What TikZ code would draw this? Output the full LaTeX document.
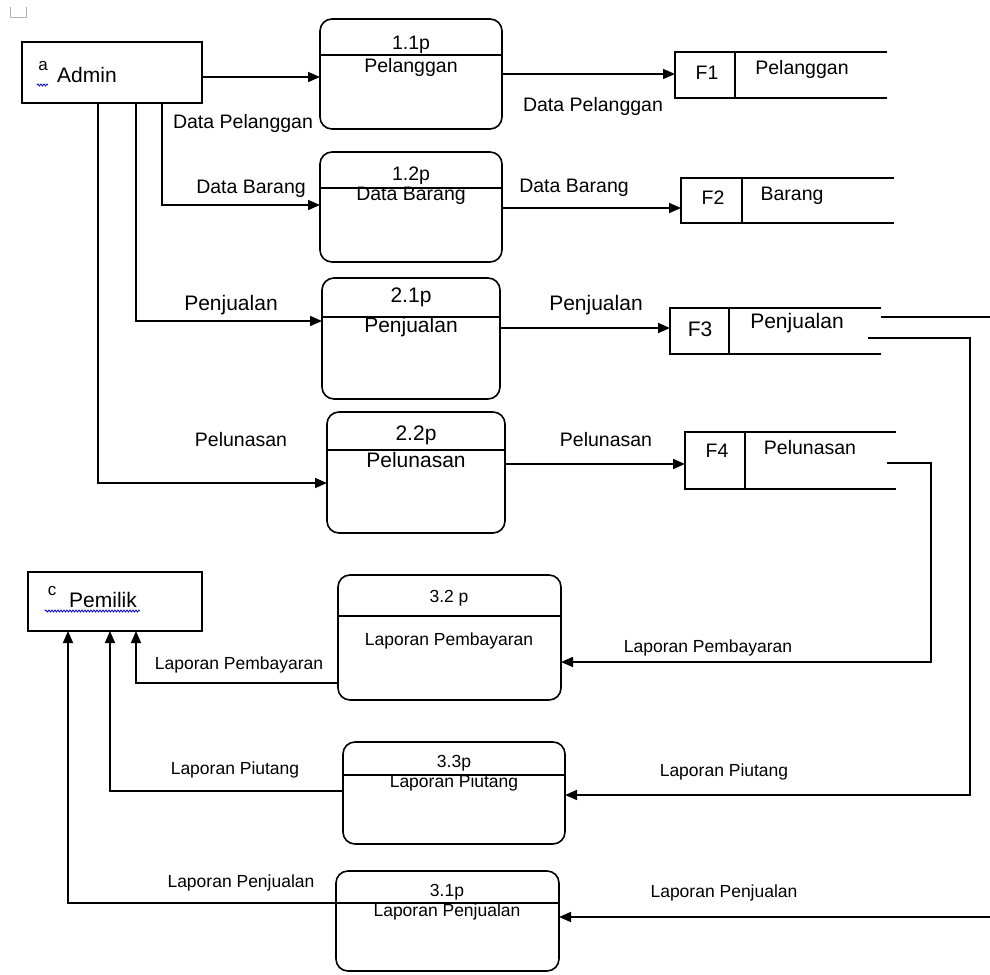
\documentclass[tikz,border=0pt]{standalone}
\usepackage{fontspec}
\setmainfont{Liberation Sans}
\usetikzlibrary{arrows.meta,fit,decorations.pathmorphing}
\begin{document}
\begin{tikzpicture}[x=1pt,y=-1pt,line width=1.6pt,
  proc/.style={draw, rounded corners=12pt, inner sep=0pt, outer sep=0pt},
  ent/.style={draw, inner sep=0pt, outer sep=0pt},
  hole/.style={inner sep=0pt, outer sep=0pt},
  arr/.style={-{Triangle[length=12pt,width=10pt]}},
  tA/.style={font=\fontsize{19.5}{20}\selectfont, inner sep=0pt},
  tB/.style={font=\fontsize{21}{22}\selectfont, inner sep=0pt},
  tC/.style={font=\fontsize{17.5}{18}\selectfont, inner sep=0pt},
  tS/.style={font=\fontsize{17}{18}\selectfont, inner sep=0pt},
  wavy/.style={draw=blue!80!black, line width=0.8pt, decorate, decoration={snake, amplitude=1pt, segment length=3pt}},
]
\path[fill=white] (0,0) rectangle (990,974);
\useasboundingbox (0,0) rectangle (990,974);

% small mark top-left
\draw[gray!60, line width=0.8pt] (10,7) -- (10,17) -- (26,17) -- (26,7);

% external entities
\node[ent, fit={(22,42) (202,103)}] (admin) {};
\node[tS] (admA) at (43,66) {a};
\node[font=\fontsize{21}{22}\selectfont, inner sep=0pt] (admT) at (87,75) {Admin};
\draw[wavy] (37,85) -- (48,85);

\node[ent, fit={(28,572) (202,631)}] (pemilik) {};
\node[tS] (pemC) at (52,591) {c};
\node[font=\fontsize{21}{22}\selectfont, inner sep=0pt] (pemT) at (103,600) {Pemilik};
\draw[wavy] (45,611) -- (140,611);

% processes
\node[proc, fit={(320,19) (502,129)}] (p11) {};
\draw (p11.west |- 0,55) -- (p11.east |- 0,55);
\node[tA] (p11a) at (411,45) {1.1p};
\node[tA] (p11b) at (411,67) {Pelanggan};

\node[proc, fit={(320,152) (502,262)}] (p12) {};
\draw (p12.west |- 0,188) -- (p12.east |- 0,188);
\node[tA] (p12a) at (411,176) {1.2p};
\node[tA] (p12b) at (411,196) {Data Barang};

\node[proc, fit={(322,278) (500,399)}] (p21) {};
\draw (p21.west |- 0,317) -- (p21.east |- 0,317);
\node[tB] (p21a) at (411,297) {2.1p};
\node[tB] (p21b) at (411,327) {Penjualan};

\node[proc, fit={(327,412) (505,533)}] (p22) {};
\draw (p22.west |- 0,450) -- (p22.east |- 0,450);
\node[tB] (p22a) at (416,435) {2.2p};
\node[tB] (p22b) at (416,460) {Pelunasan};

\node[proc, fit={(338,575) (561,700)}] (p32) {};
\draw (p32.west |- 0,616) -- (p32.east |- 0,616);
\node[tC] (p32a) at (449,598) {3.2 p};
\node[tC] (p32b) at (449,641) {Laporan Pembayaran};

\node[proc, fit={(343,742) (565,844)}] (p33) {};
\draw (p33.west |- 0,775) -- (p33.east |- 0,775);
\node[tC] (p33a) at (454,763) {3.3p};
\node[tC] (p33b) at (454,783) {Laporan Piutang};

\node[proc, fit={(336,871) (559,971)}] (p31) {};
\draw (p31.west |- 0,903) -- (p31.east |- 0,903);
\node[tC] (p31a) at (447,892) {3.1p};
\node[tC] (p31b) at (447,912) {Laporan Penjualan};

% data stores
\node[hole, fit={(675,52) (735,98)}] (f1) {};
\draw (f1.north west -| 887,0) -- (f1.north west) -- (f1.south west) -- (f1.south west -| 887,0);
\draw (f1.north east) -- (f1.south east);
\node[tA] (f1a) at (707,73) {F1};
\node[tA] (f1b) at (802,69) {Pelanggan};

\node[hole, fit={(681,178) (742,223)}] (f2) {};
\draw (f2.north west -| 894,0) -- (f2.north west) -- (f2.south west) -- (f2.south west -| 894,0);
\draw (f2.north east) -- (f2.south east);
\node[tA] (f2a) at (713,198) {F2};
\node[tA] (f2b) at (792,196) {Barang};

\node[hole, fit={(670,308) (729,354)}] (f3) {};
\draw (f3.north west -| 881,0) -- (f3.north west) -- (f3.south west) -- (f3.south west -| 881,0);
\draw (f3.north east) -- (f3.south east);
\node[tB] (f3a) at (700,329) {F3};
\node[tB] (f3b) at (797,323) {Penjualan};

\node[hole, fit={(685,432) (745,489)}] (f4) {};
\draw (f4.north west -| 896,0) -- (f4.north west) -- (f4.south west) -- (f4.south west -| 896,0);
\draw (f4.north east) -- (f4.south east);
\node[tA] (f4a) at (717,451) {F4};
\node[tA] (f4b) at (810,448) {Pelunasan};

% free ends
\coordinate (f3out) at (881,317);
\coordinate (edge1) at (990,317);
\coordinate (f3out2) at (868,338);
\coordinate (f4out) at (887,463);
\coordinate (edge2) at (990,917);

% connectors from Admin
\draw[arr] (admin.east |- 0,77) -- (p11.west |- 0,77);
\draw[arr] (admin.south -| 162,0) -- (162,205) -- (p12.west |- 0,205);
\draw[arr] (admin.south -| 136,0) -- (136,321) -- (p21.west |- 0,321);
\draw[arr] (admin.south -| 98,0) -- (98,483) -- (p22.west |- 0,483);

% processes to stores
\draw[arr] (p11.east |- 0,74) -- (f1.west |- 0,74);
\draw[arr] (p12.east |- 0,208) -- (f2.west |- 0,208);
\draw[arr] (p21.east |- 0,328) -- (f3.west |- 0,328);
\draw[arr] (p22.east |- 0,464) -- (f4.west |- 0,464);

% stores to reports
\draw (f3out) -- (edge1);
\draw[arr] (f3out2) -- (970,338) -- (970,795) -- (p33.east |- 0,795);
\draw[arr] (f4out) -- (931,463) -- (931,662) -- (p32.east |- 0,662);
\draw[arr] (edge2) -- (p31.east |- 0,917);

% reports to Pemilik
\draw[arr] (p32.west |- 0,683) -- (136,683) -- (pemilik.south -| 136,0);
\draw[arr] (p33.west |- 0,791) -- (110,791) -- (pemilik.south -| 110,0);
\draw[arr] (p31.west |- 0,903) -- (68,903) -- (pemilik.south -| 68,0);

% flow labels
\node[tA] (l1) at (243,123) {Data Pelanggan};
\node[tA] (l2) at (251,189) {Data Barang};
\node[tB] (l3) at (231,305) {Penjualan};
\node[tA] (l4) at (241,440) {Pelunasan};
\node[tA] (l5) at (593,106) {Data Pelanggan};
\node[tA] (l6) at (574,188) {Data Barang};
\node[tB] (l7) at (596,305) {Penjualan};
\node[tA] (l8) at (606,440) {Pelunasan};
\node[tC] (l9) at (708,648) {Laporan Pembayaran};
\node[tC] (l10) at (239,665) {Laporan Pembayaran};
\node[tC] (l11) at (724,772) {Laporan Piutang};
\node[tC] (l12) at (235,770) {Laporan Piutang};
\node[tC] (l13) at (724,893) {Laporan Penjualan};
\node[tC] (l14) at (241,883) {Laporan Penjualan};
\end{tikzpicture}
\end{document}
